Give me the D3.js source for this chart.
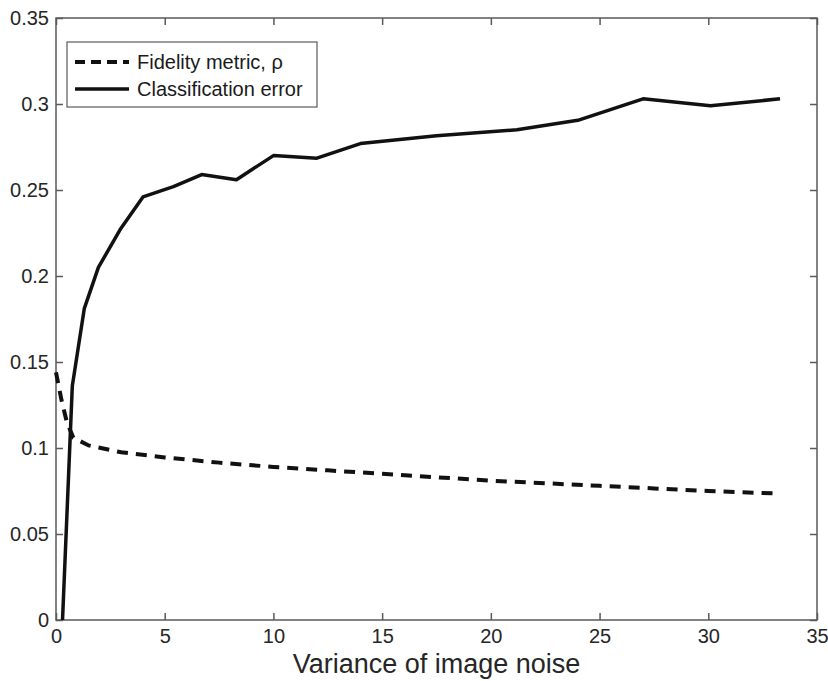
<!DOCTYPE html>
<html>
<head>
<meta charset="utf-8">
<script src="https://cdn.jsdelivr.net/npm/d3@7"></script>
<style>
    body { margin: 0; background: #fff; }
    .tick-label { font-family: "Liberation Sans", Arial, sans-serif; font-size: 20px; fill: #262626; }
    .axis-title { font-family: "Liberation Sans", Arial, sans-serif; font-size: 27px; fill: #262626; }
    .legend-label { font-family: "Liberation Sans", Arial, sans-serif; font-size: 20px; fill: #1a1a1a; }
</style>
</head>
<body>
<div id="chart"></div>
<script>
// Classification error (solid line)
let errVariance = [0.3, 0.75, 1.3, 1.95, 2.95, 4.0, 5.4, 6.7, 8.3, 10.0, 12.0, 14.0, 17.5, 21.2, 24.0, 27.0, 30.1, 33.3];
let errValues   = [0, 0.136, 0.181, 0.205, 0.227, 0.246, 0.252, 0.259, 0.256, 0.270, 0.2685, 0.277, 0.2815, 0.285, 0.2905, 0.303, 0.299, 0.303];

// Fidelity metric (dashed line)
let fidVariance = [0, 0.25, 0.5, 0.8, 1.5, 3, 5, 7.5, 10, 12.5, 15, 17.5, 20, 22.5, 25, 27.5, 30, 33.3];
let fidValues   = [0.144, 0.128, 0.115, 0.106, 0.1015, 0.0975, 0.0945, 0.0915, 0.089, 0.087, 0.085, 0.083, 0.081, 0.0795, 0.078, 0.0765, 0.075, 0.0735];

let xTicks = [0, 5, 10, 15, 20, 25, 30, 35];
let yTicks = [0, 0.05, 0.1, 0.15, 0.2, 0.25, 0.3, 0.35];
let yTickLabels = ["0", "0.05", "0.1", "0.15", "0.2", "0.25", "0.3", "0.35"];

let legendNames = ["Fidelity metric, \u03c1", "Classification error"];

let width = 828;
let height = 681;
let plotLeft = 56, plotRight = 817, plotTop = 18, plotBottom = 620;
let axisColor = "#5a5a5a";
let tickLen = 7;

let svg = d3.select("#chart")
    .append("svg")
    .attr("width", width)
    .attr("height", height);

let xScale = d3.scaleLinear().domain([0, 35]).range([plotLeft, plotRight]);
let yScale = d3.scaleLinear().domain([0, 0.35]).range([plotBottom, plotTop]);

// bottom axis: ticks point inward, labels below
let xAxis = d3.axisBottom(xScale)
    .tickValues(xTicks)
    .tickSize(-tickLen)
    .tickPadding(9)
    .tickFormat(d3.format("d"));

let gx = svg.append("g")
    .attr("transform", "translate(0," + plotBottom + ")")
    .call(xAxis);

// left axis
let yAxis = d3.axisLeft(yScale)
    .tickValues(yTicks)
    .tickSize(-tickLen)
    .tickPadding(7)
    .tickFormat(function (d, i) { return yTickLabels[i]; });

let gy = svg.append("g")
    .attr("transform", "translate(" + plotLeft + ",0)")
    .call(yAxis);

// top and right axes, ticks only (matlab box)
let gTop = svg.append("g")
    .attr("transform", "translate(0," + plotTop + ")")
    .call(d3.axisTop(xScale).tickValues(xTicks).tickSize(-tickLen).tickFormat(""));
let gRight = svg.append("g")
    .attr("transform", "translate(" + plotRight + ",0)")
    .call(d3.axisRight(yScale).tickValues(yTicks).tickSize(-tickLen).tickFormat(""));

[gx, gy, gTop, gRight].forEach(function (g) {
    g.select(".domain").remove();
    g.selectAll(".tick line").attr("stroke", axisColor).attr("stroke-width", 1.5);
    g.selectAll(".tick text").attr("class", "tick-label").attr("fill", null);
});

// frame
svg.append("rect")
    .attr("x", plotLeft)
    .attr("y", plotTop)
    .attr("width", plotRight - plotLeft)
    .attr("height", plotBottom - plotTop)
    .attr("fill", "none")
    .attr("stroke", axisColor)
    .attr("stroke-width", 1.5);

// x axis title
svg.append("text")
    .attr("class", "axis-title")
    .attr("x", (plotLeft + plotRight) / 2)
    .attr("y", 673)
    .attr("text-anchor", "middle")
    .text("Variance of image noise");

// lines
let fidData = fidVariance.map(function (v, i) { return { x: v, y: fidValues[i] }; });
let errData = errVariance.map(function (v, i) { return { x: v, y: errValues[i] }; });

let line = d3.line()
    .x(function (d) { return xScale(d.x); })
    .y(function (d) { return yScale(d.y); });

svg.append("path")
    .datum(fidData)
    .attr("d", line)
    .attr("fill", "none")
    .attr("stroke", "#111")
    .attr("stroke-width", 4)
    .attr("stroke-dasharray", "11,8");

svg.append("path")
    .datum(errData)
    .attr("d", line)
    .attr("fill", "none")
    .attr("stroke", "#111")
    .attr("stroke-width", 3.5)
    .attr("stroke-linejoin", "round");

// legend
let legend = svg.append("g");
legend.append("rect")
    .attr("x", 67)
    .attr("y", 42)
    .attr("width", 250)
    .attr("height", 65)
    .attr("fill", "#fff")
    .attr("stroke", axisColor)
    .attr("stroke-width", 1.2);

let legendDash = ["10,6", null];
let legendWidth = [4, 3.5];
legendNames.forEach(function (name, i) {
    let ly = 62 + i * 27;
    legend.append("line")
        .attr("x1", 75)
        .attr("x2", 129)
        .attr("y1", ly)
        .attr("y2", ly)
        .attr("stroke", "#111")
        .attr("stroke-width", legendWidth[i])
        .attr("stroke-dasharray", legendDash[i]);
    legend.append("text")
        .attr("class", "legend-label")
        .attr("x", 137)
        .attr("y", ly + 7)
        .text(name);
});
</script>
</body>
</html>
